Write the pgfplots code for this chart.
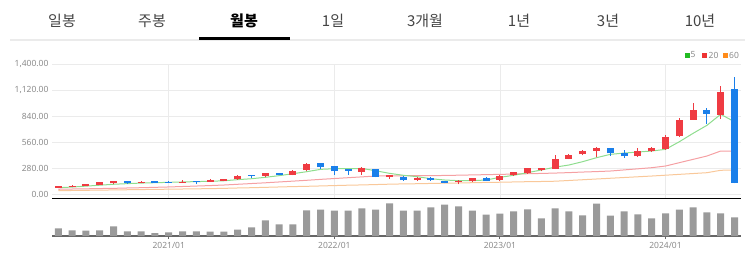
\documentclass[border=0pt]{standalone}
\usepackage{pgfplots}
\pgfplotsset{compat=1.18}
\usepackage{pgfplotstable}
\usepackage{fontspec}
\setmainfont{Noto Sans}
\newfontfamily\kr{Noto Sans CJK KR}
\definecolor{upred}{HTML}{EF3B42}
\definecolor{dnblue}{HTML}{1A7FEA}
\definecolor{ma5}{HTML}{8FDD8F}
\definecolor{ma20}{HTML}{F5A0A3}
\definecolor{ma60}{HTML}{F9C89A}
\definecolor{gridc}{HTML}{EBEBEB}
\definecolor{lab}{HTML}{8A8A8A}
\definecolor{volc}{HTML}{9A9A9A}
\definecolor{tabc}{HTML}{444444}
\definecolor{axgray}{HTML}{666666}
\definecolor{lg5}{HTML}{22BB22}
\definecolor{lg20}{HTML}{EE3333}
\definecolor{lg60}{HTML}{FF8C1A}

\pgfplotstableread{
x o h l c
0 65 90 62 86
1 78 97 75 90
2 88 112 86 108
3 102 133 100 130
4 115 145 105 140
6 120 140 118 132
9 120 152 118 130
11 133 160 130 150
12 142 166 140 162
13 158 205 155 194
15 194 230 188 223
17 205 255 200 251
18 259 340 248 324
22 240 291 208 277
24 183 205 160 203
26 150 185 140 178
29 126 148 105 136
30 135 172 128 168
32 150 200 140 198
33 200 240 195 237
34 226 284 218 280
35 262 284 245 280
36 275 421 268 378
37 381 430 375 421
38 428 478 418 467
39 467 507 399 496
42 407 500 400 467
43 464 505 455 500
44 488 633 480 615
45 622 823 615 795
46 802 979 800 903
48 856 1165 812 1101
}\up

\pgfplotstableread{
x o h l c
5 140 142 112 118
7 140 142 118 120
8 130 140 118 120
10 135 137 108 125
14 205 206 176 195
16 223 226 204 207
19 331 334 273 291
20 302 305 208 245
21 270 275 208 250
23 270 272 180 183
25 183 190 145 148
27 178 183 145 150
28 140 142 116 120
31 170 182 138 142
40 496 498 413 439
41 442 475 392 407
47 903 925 755 866
49 1136 1259 115 122
}\down

\pgfplotstableread{
x v
0 23
1 17
2 16
3 17
4 29
5 14
6 14
7 9
8 11
9 14
10 14
11 13
12 13
13 19
14 26
15 47
16 35
17 35
18 77
19 79
20 76
21 76
22 83
23 79
24 98
25 76
26 76
27 86
28 94
29 89
30 76
31 64
32 67
33 74
34 80
35 53
36 83
37 74
38 62
39 97
40 61
41 74
42 65
43 53
44 68
45 79
46 86
47 71
48 68
49 56
}\vol

\begin{document}
\begin{tikzpicture}[x=1pt,y=1pt]
% tabs
\foreach \xx/\tt in {62/일봉,152/주봉,333/1일,425/3개월,519/1년,608/3년,700/10년}
  \node[font=\kr\fontsize{15}{18}\selectfont, text=tabc] at (\xx,237) {\tt};
\node[font=\kr\bfseries\fontsize{15}{18}\selectfont, text=black] at (244,237) {월봉};
\fill[gridc] (10,217.5) rectangle (745,219.5);
\fill[black] (199,218) rectangle (290,221);
% legend
\fill[lg5] (684.5,200.5) rectangle (689.5,205.5);
\node[font=\fontsize{8.5}{10}\selectfont, text=lab, anchor=west, inner sep=0pt] at (690.5,203) {5};
\fill[lg20] (702,200.5) rectangle (707,205.5);
\node[font=\fontsize{8.5}{10}\selectfont, text=lab, anchor=west, inner sep=0pt] at (708.5,203) {20};
\fill[lg60] (722.5,200.5) rectangle (727.5,205.5);
\node[font=\fontsize{8.5}{10}\selectfont, text=lab, anchor=west, inner sep=0pt] at (729,203) {60};

% price axis
\begin{axis}[at={(52pt,59.7pt)}, anchor=south west, scale only axis,
  width=688.7pt, height=134pt,
  xmin=-0.46, xmax=49.45, ymin=-46.4, ymax=1400,
  axis x line*=bottom, axis y line*=left,
  x axis line style={black, line width=1.3pt, -},
  y axis line style={draw=none},
  major tick length=0pt,
  xtick={8,20,32,44}, xticklabels={},
  xmajorgrids, ymajorgrids,
  grid style={gridc, line width=0.8pt},
  ytick={0,280,560,840,1120,1400},
  yticklabels={0.00,280.00,560.00,840.00,{1,120.00},{1,400.00}},
  yticklabel style={font=\fontsize{8.5}{10}\selectfont, text=lab},
  clip=false]
\addplot[ma60, line width=1pt, mark=none] coordinates {
(0,36)(1,38)(2,40)(3,42)(4,44)(5,46)(6,48)(7,50)(8,52)(9,54)(10,56)(11,58)(12,61)(13,65)(14,68)(15,72)(16,76)(17,80)(18,83)(19,87)(20,91)(21,95)(22,98)(23,102)(24,106)(25,109)(26,111)(27,114)(28,117)(29,119)(30,122)(31,125)(32,127)(33,130)(34,133)(35,135)(36,138)(37,146)(38,154)(39,162)(40,170)(41,178)(42,186)(43,194)(44,203)(45,212)(46,221)(47,230)(48,256)(49,259)};
\addplot[ma20, line width=1pt, mark=none] coordinates {
(0,51)(1,54)(2,56)(3,59)(4,61)(5,65)(6,68)(7,72)(8,76)(9,81)(10,86)(11,91)(12,97)(13,105)(14,113)(15,121)(16,130)(17,139)(18,148)(19,158)(20,167)(21,176)(22,185)(23,194)(24,196)(25,197)(26,198)(27,199)(28,200)(29,203)(30,206)(31,209)(32,212)(33,215)(34,219)(35,222)(36,226)(37,231)(38,237)(39,242)(40,248)(41,260)(42,272)(43,284)(44,302)(45,338)(46,374)(47,410)(48,464)(49,464)};
\addplot[ma5, line width=1pt, mark=none] coordinates {
(0,68)(1,75)(2,85)(3,95)(4,105)(5,112)(6,118)(7,122)(8,126)(9,130)(10,134)(11,137)(12,143)(13,155)(14,165)(15,180)(16,198)(17,219)(18,241)(19,266)(20,273)(21,273)(22,276)(23,251)(24,223)(25,202)(26,187)(27,165)(28,151)(29,144)(30,144)(31,151)(32,180)(33,202)(34,230)(35,259)(36,290)(37,313)(38,349)(39,392)(40,428)(41,442)(42,453)(43,464)(44,482)(45,564)(46,655)(47,741)(48,860)(49,780)};
% wicks
\addplot[draw=none, mark=none, error bars/.cd, y dir=plus, y explicit, error mark=none,
  error bar style={line width=1pt, draw=upred}]
  table[x=x, y=l, y error expr=\thisrow{h}-\thisrow{l}] {\up};
\addplot[draw=none, mark=none, error bars/.cd, y dir=plus, y explicit, error mark=none,
  error bar style={line width=1pt, draw=dnblue}]
  table[x=x, y=l, y error expr=\thisrow{h}-\thisrow{l}] {\down};
% bodies
\addplot[draw=none, mark=none, error bars/.cd, y dir=plus, y explicit, error mark=none,
  error bar style={line width=7pt, draw=upred}]
  table[x=x, y=o, y error expr=\thisrow{c}-\thisrow{o}] {\up};
\addplot[draw=none, mark=none, error bars/.cd, y dir=plus, y explicit, error mark=none,
  error bar style={line width=7pt, draw=dnblue}]
  table[x=x, y=c, y error expr=\thisrow{o}-\thisrow{c}] {\down};
\end{axis}

% volume axis
\begin{axis}[at={(52pt,22pt)}, anchor=south west, scale only axis,
  width=688.7pt, height=37.7pt,
  xmin=-0.46, xmax=49.45, ymin=0, ymax=113,
  axis x line*=bottom, axis y line*=left,
  x axis line style={axgray, line width=1.2pt, -},
  y axis line style={draw=none}, ytick=\empty,
  xtick={8,20,32,44}, xticklabels={2021/01,2022/01,2023/01,2024/01},
  tick align=outside, major tick length=3pt,
  tick style={axgray, line width=1pt},
  xticklabel style={font=\fontsize{8.5}{10}\selectfont, text=lab}]
\addplot[ybar, bar width=7pt, fill=volc, draw=none] table[x=x, y=v] {\vol};
\end{axis}
\pgfresetboundingbox
\path[use as bounding box] (0,0) rectangle (754,258);
\end{tikzpicture}
\end{document}
